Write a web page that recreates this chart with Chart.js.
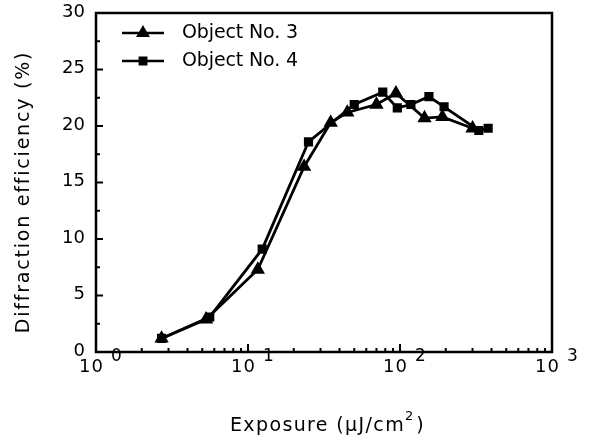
<!DOCTYPE html>
<html>
<head>
<meta charset="utf-8">
<script src="https://cdn.jsdelivr.net/npm/chart.js@4/dist/chart.umd.min.js"></script>
<style>
body { margin: 0; background: #fff; }
canvas { display: block; }
</style>
</head>
<body>
<canvas id="c" width="593" height="442"></canvas>
<script>
// (x log scale, exposure in uJ/cm2)
var exposure3 = [2.7, 5.3, 11.6, 23.4, 35, 45, 70, 94, 145, 190, 300];
var eff3      = [1.2, 2.9, 7.3, 16.4, 20.3, 21.2, 21.9, 22.9, 20.7, 20.8, 19.8];
var exposure4 = [2.7, 5.6, 12.4, 25, 50, 77, 96, 118, 155, 195, 330, 380];
var eff4      = [1.2, 3.1, 9.1, 18.6, 21.9, 23.0, 21.6, 21.9, 22.6, 21.7, 19.6, 19.8];
var seriesNames = ['Object No. 3', 'Object No. 4'];

var yTicks = [0, 5, 10, 15, 20, 25, 30];
var xTicks = [1, 10, 100, 1000];
var xTickExp = ['0', '1', '2', '3'];

var FONT = '"DejaVu Sans", sans-serif';

function pts(xs, ys) {
    var out = [];
    for (var i = 0; i < xs.length; i++) out.push({x: xs[i], y: ys[i]});
    return out;
}

// stretch text to the width it has in the picture (wide face)
function spread(ctx, txt, target) {
    ctx.letterSpacing = '0px';
    var w = ctx.measureText(txt).width;
    var s = (target - w) / txt.length;
    ctx.letterSpacing = s.toFixed(2) + 'px';
    return s;
}

var frame = {
    id: 'frame',
    afterDatasetsDraw: function(chart) {
        var ctx = chart.ctx;
        var a = chart.chartArea;
        var xs = chart.scales.x, ys = chart.scales.y;
        ctx.save();
        ctx.strokeStyle = '#000';
        ctx.fillStyle = '#000';
        ctx.lineWidth = 2.5;
        ctx.strokeRect(a.left, a.top, a.right - a.left, a.bottom - a.top);

        // y ticks, inward, minor every 2.5
        ctx.lineWidth = 2;
        for (var v = 0; v <= 30; v += 2.5) {
            var py = ys.getPixelForValue(v);
            var len = (v % 5 == 0) ? 7 : 4;
            ctx.beginPath(); ctx.moveTo(a.left, py); ctx.lineTo(a.left + len, py); ctx.stroke();
        }
        ctx.font = '18px ' + FONT;
        ctx.textAlign = 'right';
        ctx.textBaseline = 'middle';
        for (var i = 0; i < yTicks.length; i++) {
            ctx.fillText(String(yTicks[i]), a.left - 11, ys.getPixelForValue(yTicks[i]) - 1);
        }

        // x ticks, log decades with minor 2..9
        for (var d = 1; d < 1000; d *= 10) {
            for (var m = 1; m < 10; m++) {
                var px = xs.getPixelForValue(d * m);
                var l = (m == 1) ? 8 : 4;
                ctx.beginPath(); ctx.moveTo(px, a.bottom); ctx.lineTo(px, a.bottom - l); ctx.stroke();
            }
        }
        ctx.textBaseline = 'alphabetic';
        for (var j = 0; j < xTicks.length; j++) {
            var tx = xs.getPixelForValue(xTicks[j]);
            ctx.font = '18px ' + FONT;
            ctx.textAlign = 'right';
            ctx.letterSpacing = '1px';
            ctx.fillText('10', tx + 8, a.bottom + 20);
            ctx.letterSpacing = '0px';
            ctx.font = '17px ' + FONT;
            ctx.textAlign = 'left';
            ctx.fillText(xTickExp[j], tx + 15, a.bottom + 9);
        }

        // axis titles
        ctx.textAlign = 'left';
        var t1 = 'Exposure (\u03bcJ/cm', t2 = '2', t3 = ')';
        var sx = 230;
        ctx.font = '19px ' + FONT;
        spread(ctx, t1, 175);
        var w1 = ctx.measureText(t1).width;
        ctx.fillText(t1, sx, 431);
        ctx.letterSpacing = '0px';
        ctx.font = '13px ' + FONT;
        var w2 = ctx.measureText(t2).width;
        ctx.fillText(t2, sx + w1, 420);
        ctx.font = '19px ' + FONT;
        ctx.fillText(t3, sx + w1 + w2 + 3, 431);

        ctx.save();
        ctx.translate(24, 192);
        ctx.rotate(-Math.PI / 2);
        ctx.textAlign = 'center';
        ctx.textBaseline = 'middle';
        ctx.font = '19px ' + FONT;
        spread(ctx, 'Diffraction efficiency (%)', 282);
        ctx.fillText('Diffraction efficiency (%)', 0, 0);
        ctx.restore();

        // legend
        var legY = [33, 61];
        var styles = ['triangle', 'rect'];
        for (var k = 0; k < 2; k++) {
            ctx.letterSpacing = '0px';
            ctx.lineWidth = 2.5;
            ctx.beginPath(); ctx.moveTo(122, legY[k]); ctx.lineTo(164, legY[k]); ctx.stroke();
            Chart.helpers.drawPoint(ctx, {pointStyle: styles[k], radius: k == 0 ? 5.5 : 4.5, borderWidth: 1}, 143, legY[k]);
            ctx.fill();
            ctx.font = '19px ' + FONT;
            ctx.textAlign = 'left';
            ctx.textBaseline = 'middle';
            spread(ctx, seriesNames[k], 116);
            ctx.fillText(seriesNames[k], 182, legY[k]);
        }
        ctx.restore();
    }
};

var ctx = document.getElementById('c').getContext('2d');
var myChart = new Chart(ctx, {
    type: 'line',
    data: {
        datasets: [
            {label: seriesNames[0], data: pts(exposure3, eff3), borderColor: '#000', backgroundColor: '#000',
             borderWidth: 2.8, pointStyle: 'triangle', pointRadius: 5.5, tension: 0, fill: false},
            {label: seriesNames[1], data: pts(exposure4, eff4), borderColor: '#000', backgroundColor: '#000',
             borderWidth: 2.8, pointStyle: 'rect', pointRadius: 4.5, tension: 0, fill: false}
        ]
    },
    options: {
        responsive: false,
        animation: false,
        layout: {padding: {left: 96, right: 41, top: 13, bottom: 90}},
        plugins: {legend: {display: false}, tooltip: {enabled: false}},
        scales: {
            x: {type: 'logarithmic', min: 1, max: 1000, display: false},
            y: {type: 'linear', min: 0, max: 30, display: false}
        }
    },
    plugins: [frame]
});
</script>
</body>
</html>
